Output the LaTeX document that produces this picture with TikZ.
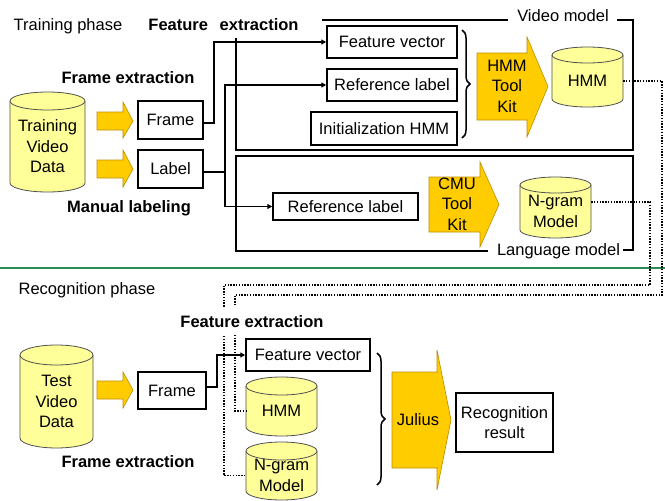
\documentclass[tikz,border=0pt]{standalone}
\usepackage{fontspec}
\setmainfont{Liberation Sans}
\usetikzlibrary{arrows.meta,decorations.pathreplacing}
\definecolor{arrfill}{RGB}{255,204,0}
\definecolor{arrline}{RGB}{190,140,0}
\definecolor{cylfill}{RGB}{255,255,153}
\definecolor{cylline}{RGB}{80,80,80}
\definecolor{divgreen}{RGB}{46,139,87}

% #1 name, #2 xl, #3 yt, #4 xr, #5 yb, #6 ry, #7 text
\newcommand\mycyl[7]{%
  \pgfmathsetmacro\cylcx{(#2+#4)/2}%
  \pgfmathsetmacro\cylrx{(#4-#2)/2}%
  \pgfmathsetmacro\cylcy{(#3+#5)/2+#6/2}%
  \pgfmathsetmacro\cylh{#5-#3-#6}%
  \pgfmathsetmacro\cylw{#4-#2}%
  \path[fill=cylfill,cylbd] (#2,{#3+#6}) -- (#2,{#5-#6})
     arc[start angle=180,end angle=360,x radius=\cylrx pt,y radius=#6 pt]
     -- (#4,{#3+#6});
  \draw[cylbd,fill=cylfill] (\cylcx,{#3+#6}) ellipse [x radius=\cylrx pt, y radius=#6 pt];
  \node[cyltext, minimum width=\cylw pt, minimum height=\cylh pt] (#1) at (\cylcx,\cylcy) {#7};
}
% #1 shaft left, #2 shaft top, #3 shaft bottom, #4 head x, #5 head top, #6 head bottom, #7 tip x
\newcommand\blockarrow[7]{%
  \filldraw[blockarr] (#1,#2) -- (#4,#2) -- (#4,#5) -- (#7,{(#2+#3)/2}) -- (#4,#6) -- (#4,#3) -- (#1,#3) -- cycle;
}

\begin{document}
\begin{tikzpicture}[x=1pt,y=-1pt,
  txt/.style={font=\fontsize{16.5}{20.5}\selectfont},
  btxt/.style={font=\fontsize{16.5}{20.5}\selectfont\bfseries},
  box/.style={draw, line width=1.5pt, fill=white, inner sep=0pt, txt, align=center},
  cyltext/.style={inner sep=0pt, txt, align=center},
  cylbd/.style={draw=cylline, line width=0.8pt},
  blockarr/.style={fill=arrfill, draw=arrline, line width=0.6pt, line join=miter},
  frameln/.style={line width=1.5pt},
  conn/.style={line width=1.5pt, -{Triangle[length=5pt,width=5pt]}},
  dotln/.style={line width=1.4pt, dash pattern=on 1.4pt off 1.4pt},
  bracest/.style={line width=1.5pt, decorate, decoration={brace, amplitude=8pt}},
  lbl/.style={txt, anchor=base, inner sep=0pt},
  blbl/.style={btxt, anchor=base, inner sep=0pt},
]
\useasboundingbox (0,0) rectangle (665,501);

% divider
\draw[divgreen, line width=2pt] (0,268) -- (665,268);

% ---------------- Training phase ----------------
\node[lbl] (trainphase) at (68,30) {Training phase};
\node[blbl] (featext1) at (223.5,30) {Feature\hspace{7pt} extraction};
\node[blbl] (frameext1) at (128,83.5) {Frame extraction};
\node[blbl] (manlab) at (129,212.5) {Manual labeling};

% video model frame
\draw[frameln] (322,20) -- (508,20);
\draw[frameln] (617,20) -- (633,20) -- (633,150) -- (236,150) -- (236,38);
\node[lbl] (videomodel) at (563,21) {Video model};
% language model frame
\draw[frameln] (623,250) -- (633,250) -- (633,156) -- (236,156) -- (236,251) -- (488,251);
\node[lbl] (langmodel) at (558.5,255) {Language model};

% data
\mycyl{tvd}{10}{92}{85}{192}{9}{Training\\Video\\Data}
\blockarrow{97}{112}{130}{123}{102}{138}{133}
\blockarrow{97}{160}{178}{123}{150}{187}{133}

\node[box, minimum width=65pt, minimum height=38pt] (frameT) at (170.5,120) {Frame};
\node[box, minimum width=65pt, minimum height=38pt] (labelT) at (170.5,169) {Label};

\node[box, minimum width=130pt, minimum height=32pt] (fv1) at (392,42) {Feature vector};
\node[box, minimum width=130pt, minimum height=32pt] (rl1) at (392,85) {Reference label};
\node[box, minimum width=146pt, minimum height=33pt] (init) at (384,128.5) {Initialization HMM};
\node[box, minimum width=145pt, minimum height=27pt] (rl2) at (345.5,206.5) {Reference label};

% connectors
\draw[conn] ([yshift=-3pt]frameT.east) -- ++(10pt,0) |- (fv1.west);
\draw[conn] ([yshift=-3pt]labelT.east) -- ++(21pt,0) coordinate (lj) |- (rl1.west);
\draw[conn] (lj) |- (rl2.west);

% brace + HMM tool kit
\draw[bracest] (462,30) -- (462,138);
\blockarrow{477}{53}{120}{527}{37}{137}{548}
\node[cyltext] (hmmkit) at (507,86) {HMM\\Tool\\Kit};
\mycyl{hmm1}{552}{47}{623}{107}{8}{HMM}

% CMU tool kit
\blockarrow{429}{177}{232}{480}{162}{247}{499}
\node[cyltext] (cmukit) at (457,204) {CMU\\Tool\\Kit};
\mycyl{ng1}{520}{177}{591}{238}{8}{N-gram\\Model}

% ---------------- Recognition phase ----------------
\node[lbl] (recphase) at (87,294) {Recognition phase};
\node[blbl] (frameext2) at (128,467) {Frame extraction};

\mycyl{tvd2}{20}{345}{93}{448}{10}{Test\\Video\\Data}
\blockarrow{97}{381}{399}{123}{372}{408}{133}
\node[box, minimum width=68pt, minimum height=37pt] (frameR) at (172,390.5) {Frame};
\node[box, minimum width=124pt, minimum height=32pt] (fv2) at (308,355) {Feature vector};
\mycyl{hmm2}{246}{377}{317}{436}{9}{HMM}
\mycyl{ng2}{246}{442}{317}{500}{9}{N-gram\\Model}

\draw[conn] ([yshift=3.5pt]frameR.east) -- ++(10pt,0) |- (fv2.west);

% dotted model links
\coordinate (d1) at (662,295);
\coordinate (d2) at (235,295);
\coordinate (e1) at (650,285);
\coordinate (e2) at (224,285);
\draw[dotln] (hmm1.east) -| (d1) -- (d2) |- (hmm2.west);
\draw[dotln] ([yshift=9.5pt]ng1.east) -| (e1) -- (e2) |- (ng2.west);

\node[blbl, fill=white, inner ysep=8pt, inner xsep=1pt] (featext2) at (252,327) {Feature extraction};

% Julius
\draw[bracest] (377,353) -- (377,485);
\blockarrow{392}{372}{468}{437}{350}{490}{451}
\node[cyltext] (julius) at (418,420) {Julius};
\node[box, minimum width=97pt, minimum height=59pt] (result) at (504.5,422.5) {Recognition\\result};

\end{tikzpicture}
\end{document}
